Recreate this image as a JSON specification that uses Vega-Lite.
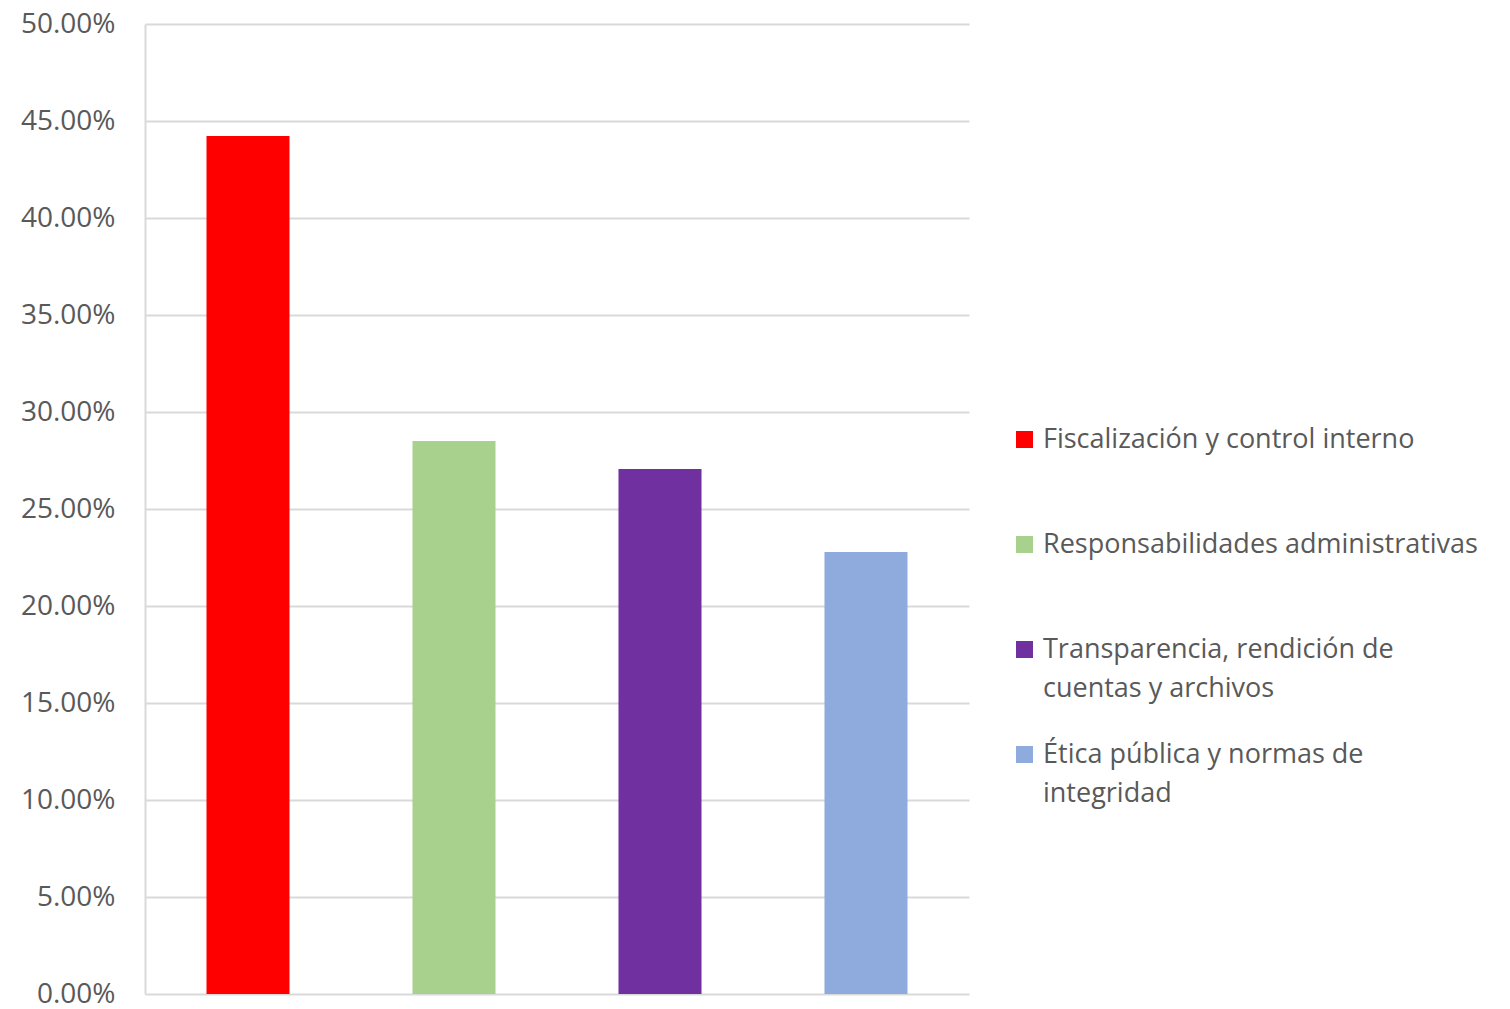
{
  "$schema": "https://vega.github.io/schema/vega-lite/v6.json",
  "width": 824,
  "height": 970,
  "autosize": "none",
  "padding": {"left": 145, "top": 24, "right": 541, "bottom": 15},
  "background": "white",
  "data": {
    "values": [
      {"tema": "Fiscalización y control interno", "porcentaje": 0.4423},
      {"tema": "Responsabilidades administrativas", "porcentaje": 0.2850},
      {"tema": "Transparencia, rendición de cuentas y archivos", "porcentaje": 0.2706},
      {"tema": "Ética pública y normas de integridad", "porcentaje": 0.2278}
    ]
  },
  "mark": "bar",
  "encoding": {
    "x": {
      "field": "tema",
      "type": "nominal",
      "sort": null,
      "axis": null,
      "scale": {"paddingInner": 0.597, "paddingOuter": 0.2985}
    },
    "y": {
      "field": "porcentaje",
      "type": "quantitative",
      "scale": {"domain": [0, 0.5]},
      "axis": {
        "title": null,
        "format": ".2%",
        "values": [0, 0.05, 0.1, 0.15, 0.2, 0.25, 0.3, 0.35, 0.4, 0.45, 0.5],
        "labelOverlap": false,
        "ticks": false,
        "labelPadding": 30,
        "domain": true,
        "domainColor": "#d9d9d9",
        "domainWidth": 2,
        "gridColor": "#d9d9d9",
        "gridWidth": 2,
        "labelFont": "Open Sans",
        "labelFontSize": 28,
        "labelColor": "#595959"
      }
    },
    "color": {
      "field": "tema",
      "type": "nominal",
      "sort": null,
      "scale": {"range": ["#ff0000", "#a9d18e", "#7030a0", "#8faadc"]},
      "legend": {
        "title": null,
        "orient": "none",
        "legendX": 866,
        "legendY": 402,
        "symbolType": "square",
        "symbolSize": 289,
        "symbolStrokeWidth": 0,
        "symbolOpacity": 1,
        "labelFont": "Open Sans",
        "labelFontSize": 27,
        "labelColor": "#595959",
        "labelLimit": 600,
        "labelOffset": 5,
        "labelBaseline": "top",
        "gridAlign": "all",
        "rowPadding": 38,
        "labelExpr": "datum.label == 'Transparencia, rendición de cuentas y archivos' ? ['Transparencia, rendición de', 'cuentas y archivos'] : datum.label == 'Ética pública y normas de integridad' ? ['Ética pública y normas de', 'integridad'] : datum.label",
        "encode": {
          "labels": {"update": {"dy": {"value": -13}}}
        }
      }
    }
  },
  "config": {
    "view": {"stroke": null},
    "style": {"guide-label": {"lineHeight": 39}}
  }
}
